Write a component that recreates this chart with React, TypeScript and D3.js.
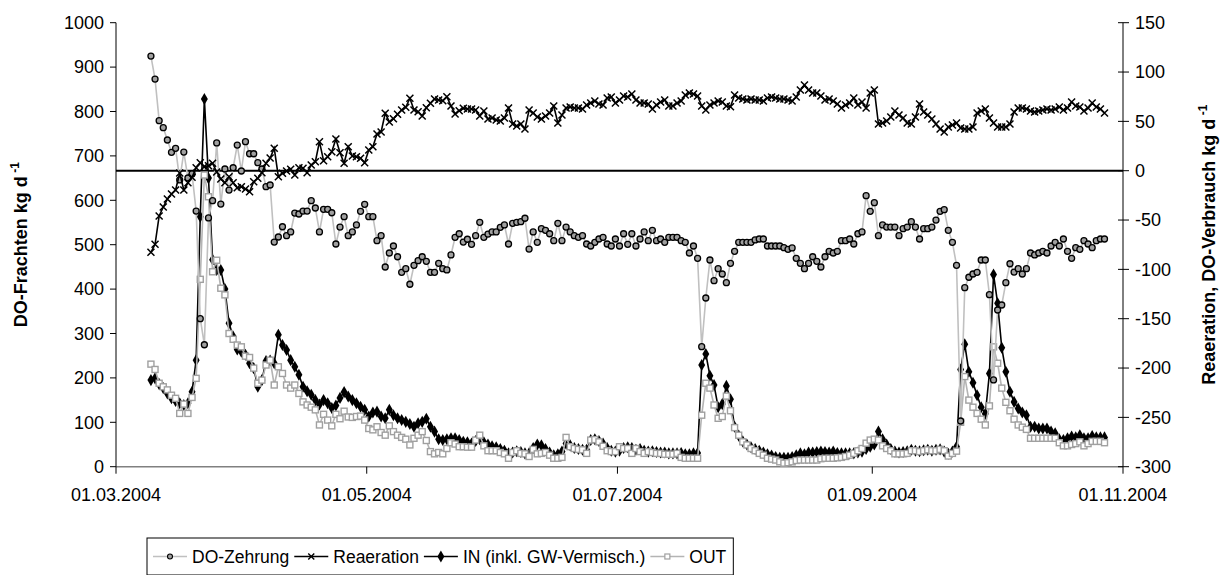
import React, { useEffect, useRef } from "react";
import * as d3 from "d3";

// daily values, first day 09.03.2004 (12:00)
const firstDay = Date.UTC(2004, 2, 9, 12);

// DO-Zehrung, right axis (kg/d)
const doZehrung = [
  116.2, 92.9, 50.7, 43.6, 31.1, 18.6, 22.7, -9.4, 18.9, -7.4,
  -3.3, -40.9, -150.0, -176.4, -47.9, -30.4, 28.1, -33.8, 1.7, -19.6,
  3.0, 26.0, -0.3, 29.4, 17.2, 17.2, 8.1, 1.7, -16.2, -14.5,
  -72.3, -67.2, -56.8, -65.9, -62.1, -42.9, -43.9, -40.9, -40.9, -30.4,
  -37.8, -62.1, -39.1, -39.1, -42.6, -74.3, -57.1, -46.6, -65.9, -62.1,
  -55.0, -41.2, -34.1, -46.6, -46.6, -70.9, -65.9, -97.6, -83.4, -76.3,
  -87.2, -103.0, -99.3, -115.1, -95.9, -91.2, -87.2, -91.8, -103.0, -103.0,
  -93.9, -99.3, -100.6, -85.4, -67.5, -63.9, -72.3, -69.5, -74.6, -65.9,
  -52.3, -67.5, -64.2, -62.1, -62.1, -57.4, -55.0, -74.3, -53.3, -52.3,
  -51.7, -48.2, -79.4, -62.1, -72.6, -58.8, -60.4, -63.9, -70.9, -53.3,
  -70.9, -57.1, -62.1, -65.9, -67.5, -65.9, -74.3, -76.3, -72.6, -69.2,
  -67.5, -74.3, -76.3, -69.2, -76.3, -63.9, -74.6, -63.9, -76.3, -69.2,
  -62.1, -70.9, -60.4, -70.9, -69.2, -72.6, -67.5, -67.5, -67.5, -70.9,
  -72.6, -83.4, -76.3, -88.8, -178.4, -129.0, -90.5, -111.5, -99.3, -104.7,
  -113.5, -93.9, -81.7, -72.6, -72.6, -72.6, -72.6, -70.2, -69.2, -69.2,
  -76.3, -76.3, -76.3, -76.3, -78.0, -79.7, -78.3, -88.8, -93.9, -99.3,
  -93.9, -87.2, -91.8, -97.6, -87.2, -81.7, -83.4, -81.7, -70.9, -70.9,
  -69.2, -74.3, -63.9, -62.1, -25.3, -41.2, -32.4, -65.9, -55.0, -57.1,
  -57.1, -57.1, -65.9, -58.8, -57.1, -51.7, -57.1, -69.2, -58.8, -58.8,
  -57.1, -50.0, -41.2, -39.5, -60.4, -72.6, -95.9, -253.7, -118.6, -108.0,
  -104.7, -103.0, -90.5, -90.5, -125.7, -212.1, -141.2, -136.1, -113.5, -94.3,
  -102.7, -99.3, -104.7, -99.3, -83.4, -85.4, -83.4, -81.7, -83.4, -76.3,
  -72.6, -76.3, -69.2, -81.7, -88.8, -78.0, -79.7, -70.9, -74.3, -78.0,
  -70.9, -69.2, -69.2,
];

// Reaeration, right axis (kg/d)
const reaeration = [
  -82.7, -74.6, -45.9, -36.8, -28.7, -23.6, -19.6, -2.3, -19.6, -12.2,
  -6.7, 3.0, 8.1, 4.1, 5.1, 7.5, -1.3, -8.4, -12.2, -6.1,
  -12.2, -17.2, -16.2, -18.6, -21.3, -11.2, -7.7, -2.0, 7.5, 12.9,
  22.7, -6.1, -2.6, -0.3, 1.4, -4.4, 3.0, 2.4, -2.0, 5.8,
  9.1, 29.4, 10.1, 14.2, 19.3, 32.1, 18.2, 7.5, 24.3, 14.9,
  14.2, 12.6, 8.1, 21.0, 24.3, 37.2, 39.2, 58.2, 49.4, 52.7,
  57.2, 61.5, 64.3, 73.4, 61.5, 59.8, 55.4, 63.8, 68.3, 72.7,
  71.7, 70.9, 75.0, 65.6, 57.5, 60.8, 63.2, 62.5, 62.5, 61.5,
  55.4, 60.5, 52.4, 53.4, 51.4, 50.4, 53.4, 63.5, 47.3, 45.3,
  47.3, 42.3, 61.5, 58.5, 54.4, 52.4, 55.4, 58.5, 65.6, 48.3,
  56.4, 63.5, 64.6, 63.5, 63.5, 62.5, 66.6, 68.6, 70.6, 67.6,
  66.6, 73.7, 74.7, 68.6, 71.7, 75.7, 74.7, 77.7, 71.7, 68.6,
  68.6, 67.6, 62.5, 66.6, 69.6, 71.7, 65.6, 65.6, 68.6, 70.6,
  76.7, 78.7, 77.7, 75.7, 65.6, 61.5, 66.6, 68.6, 70.6, 69.6,
  65.6, 64.9, 76.7, 73.7, 72.7, 71.7, 72.7, 71.7, 71.7, 70.6,
  73.7, 74.7, 73.7, 72.7, 72.7, 71.7, 70.6, 74.7, 81.8, 86.9,
  81.8, 78.7, 78.7, 75.7, 71.7, 72.7, 70.6, 67.6, 63.5, 66.6,
  68.6, 73.7, 66.6, 69.6, 63.5, 78.7, 81.8, 47.3, 48.3, 50.4,
  54.4, 60.5, 56.4, 53.4, 48.3, 47.3, 54.4, 67.6, 59.5, 56.4,
  52.4, 47.3, 42.3, 39.2, 44.3, 46.3, 48.3, 43.3, 42.3, 42.3,
  44.3, 58.5, 60.5, 62.5, 53.4, 48.3, 44.3, 44.3, 44.3, 47.3,
  59.5, 63.5, 63.5, 62.5, 60.5, 59.5, 60.5, 61.5, 62.5, 61.5,
  62.5, 64.6, 61.5, 63.5, 69.6, 65.6, 64.6, 60.5, 63.5, 68.6,
  64.6, 62.5, 58.5,
];

// IN (inkl. GW-Vermisch.), left axis (kg/d)
const inLoad = [
  195, 199, 186, 177, 165, 154, 148, 143, 139, 143,
  169, 240, 563, 828, 650, 466, 443, 443, 400, 323,
  293, 264, 259, 252, 233, 222, 180, 195, 238, 239,
  233, 297, 274, 263, 240, 225, 207, 180, 170, 162,
  150, 140, 150, 143, 132, 138, 155, 168, 158, 150,
  143, 135, 128, 113, 122, 124, 113, 109, 128, 116,
  109, 105, 101, 96, 90, 98, 101, 108, 90, 79,
  62, 60, 62, 64, 64, 60, 56, 55, 52, 58,
  62, 55, 50, 46, 44, 40, 36, 30, 32, 35,
  33, 30, 30, 42, 50, 48, 40, 32, 26, 28,
  34, 52, 48, 42, 40, 38, 38, 60, 62, 58,
  52, 42, 36, 34, 36, 42, 44, 42, 38, 40,
  36, 34, 35, 33, 32, 32, 30, 30, 30, 31,
  28, 28, 30, 31, 229, 254, 205, 184, 134, 141,
  182, 152, 90, 70, 57, 50, 44, 40, 36, 32,
  28, 25, 22, 20, 20, 20, 22, 26, 30, 28,
  32, 32, 33, 34, 33, 32, 34, 31, 30, 30,
  30, 30, 32, 34, 40, 45, 50, 79, 62, 50,
  40, 34, 32, 33, 35, 38, 36, 35, 37, 38,
  36, 38, 39, 34, 29, 34, 45, 219, 276, 214,
  189, 161, 134, 119, 210, 433, 368, 268, 214, 169,
  146, 131, 122, 116, 90, 90, 86, 86, 86, 79,
  75, 62, 60, 64, 68, 66, 71, 64, 64, 69,
  66, 66, 66,
];

// OUT, left axis (kg/d)
const outLoad = [
  231, 219, 188, 180, 173, 161, 154, 120, 141, 120,
  156, 199, 422, 657, 608, 439, 465, 402, 387, 300,
  287, 274, 270, 249, 246, 222, 188, 195, 229, 240,
  184, 225, 210, 184, 177, 184, 165, 146, 139, 134,
  128, 94, 118, 105, 92, 118, 108, 125, 112, 111,
  113, 114, 105, 86, 83, 90, 77, 71, 92, 79,
  71, 66, 62, 49, 64, 71, 79, 59, 34, 29,
  32, 29, 41, 54, 51, 45, 45, 44, 44, 60,
  71, 47, 36, 36, 36, 32, 29, 19, 32, 36,
  30, 29, 23, 39, 29, 30, 32, 26, 19, 19,
  21, 66, 45, 41, 39, 38, 30, 60, 61, 56,
  46, 36, 34, 34, 45, 41, 41, 30, 41, 34,
  30, 34, 32, 30, 30, 28, 28, 28, 30, 21,
  19, 19, 19, 19, 116, 188, 177, 139, 109, 113,
  159, 126, 88, 71, 56, 49, 41, 36, 30, 26,
  19, 17, 15, 11, 8, 9, 11, 14, 15, 15,
  15, 15, 15, 18, 19, 19, 19, 20, 21, 23,
  26, 30, 36, 41, 53, 60, 62, 60, 47, 41,
  36, 29, 29, 29, 30, 36, 36, 34, 36, 38,
  36, 36, 39, 36, 24, 30, 35, 100, 203, 150,
  134, 120, 107, 94, 137, 270, 233, 177, 145, 126,
  107, 94, 89, 84, 64, 64, 64, 64, 64, 64,
  64, 54, 47, 47, 50, 52, 56, 47, 52, 57,
  57, 57, 54,
];

const leftTicks = [0, 100, 200, 300, 400, 500, 600, 700, 800, 900, 1000];
const rightTicks = [-300, -250, -200, -150, -100, -50, 0, 50, 100, 150];
const dateTicks = [
  Date.UTC(2004, 2, 1),
  Date.UTC(2004, 4, 1),
  Date.UTC(2004, 6, 1),
  Date.UTC(2004, 8, 1),
  Date.UTC(2004, 10, 1),
];
const legendLabels = ["DO-Zehrung", "Reaeration", "IN (inkl. GW-Vermisch.)", "OUT"];

const FONT = "Arial, 'Liberation Sans', sans-serif";

type Pt = { d: Date; v: number };

export default function App() {
  const ref = useRef<SVGSVGElement>(null);

  useEffect(() => {
    const svg = d3.select(ref.current);
    svg.selectAll("*").remove();

    const left = 116, right = 1123, top = 22.7, bottom = 466.7;

    const x = d3.scaleUtc()
      .domain([dateTicks[0], dateTicks[dateTicks.length - 1]])
      .range([left, right]);
    const yL = d3.scaleLinear().domain([0, 1000]).range([bottom, top]);
    const yR = d3.scaleLinear().domain([-300, 150]).range([bottom, top]);

    const toPts = (arr: number[]): Pt[] =>
      arr.map((v, i) => ({ d: new Date(firstDay + i * 86400000), v }));

    // axes
    const g = svg.append("g");
    g.append("line").attr("x1", left).attr("x2", right).attr("y1", bottom).attr("y2", bottom)
      .attr("stroke", "#808080").attr("stroke-width", 1.5);
    g.append("line").attr("x1", left).attr("x2", left).attr("y1", top).attr("y2", bottom)
      .attr("stroke", "#000").attr("stroke-width", 1);
    g.append("line").attr("x1", right).attr("x2", right).attr("y1", top).attr("y2", bottom)
      .attr("stroke", "#000").attr("stroke-width", 1);

    leftTicks.forEach(t => {
      g.append("line").attr("x1", left - 6).attr("x2", left).attr("y1", yL(t)).attr("y2", yL(t))
        .attr("stroke", "#000");
      g.append("text").attr("x", left - 12).attr("y", yL(t)).attr("dy", "0.35em")
        .attr("text-anchor", "end").style("font-family", FONT).style("font-size", "18px")
        .text(t);
    });
    rightTicks.forEach(t => {
      g.append("line").attr("x1", right - 5).attr("x2", right + 6).attr("y1", yR(t)).attr("y2", yR(t))
        .attr("stroke", "#000");
      g.append("text").attr("x", right + 12).attr("y", yR(t)).attr("dy", "0.35em")
        .attr("text-anchor", "start").style("font-family", FONT).style("font-size", "18px")
        .text(t);
    });
    const fmt = d3.utcFormat("%d.%m.%Y");
    dateTicks.forEach(t => {
      g.append("line").attr("x1", x(t)).attr("x2", x(t)).attr("y1", bottom).attr("y2", bottom + 7)
        .attr("stroke", "#000");
      g.append("text").attr("x", x(t)).attr("y", bottom + 34)
        .attr("text-anchor", "middle").style("font-family", FONT).style("font-size", "18px")
        .text(fmt(new Date(t)));
    });

    // axis titles
    const title = (cx: number, main: string) => {
      const t = g.append("text")
        .attr("transform", `translate(${cx},${(top + bottom) / 2}) rotate(-90)`)
        .attr("text-anchor", "middle")
        .style("font-family", FONT).style("font-size", "18px").style("font-weight", "bold");
      t.append("tspan").text(main);
      t.append("tspan").attr("dy", -8).style("font-size", "12px").text(" -1");
    };
    title(27, "DO-Frachten kg d");
    title(1215, "Reaeration, DO-Verbrauch kg d");

    // zero line of the right axis
    g.append("line").attr("x1", left).attr("x2", right).attr("y1", yR(0)).attr("y2", yR(0))
      .attr("stroke", "#000").attr("stroke-width", 2);

    const lineL = d3.line<Pt>().x(p => x(p.d)).y(p => yL(p.v));
    const lineR = d3.line<Pt>().x(p => x(p.d)).y(p => yR(p.v));

    const diamond = d3.symbol().type(d3.symbolDiamond).size(42);

    // IN
    const inPts = toPts(inLoad);
    svg.append("path").datum(inPts).attr("d", lineL).attr("fill", "none")
      .attr("stroke", "#000").attr("stroke-width", 1.6);
    svg.append("g").selectAll("path").data(inPts).enter().append("path")
      .attr("d", diamond as any)
      .attr("transform", p => `translate(${x(p.d)},${yL(p.v)})`)
      .attr("fill", "#000");

    // OUT
    const outPts = toPts(outLoad);
    svg.append("path").datum(outPts).attr("d", lineL).attr("fill", "none")
      .attr("stroke", "#b4b4b4").attr("stroke-width", 1.6);
    svg.append("g").selectAll("rect").data(outPts).enter().append("rect")
      .attr("x", p => x(p.d) - 3).attr("y", p => yL(p.v) - 3)
      .attr("width", 6).attr("height", 6)
      .attr("fill", "#fff").attr("stroke", "#a0a0a0").attr("stroke-width", 1.4);

    // DO-Zehrung
    const zPts = toPts(doZehrung);
    svg.append("path").datum(zPts).attr("d", lineR).attr("fill", "none")
      .attr("stroke", "#c0c0c0").attr("stroke-width", 1.6);
    svg.append("g").selectAll("circle").data(zPts).enter().append("circle")
      .attr("cx", p => x(p.d)).attr("cy", p => yR(p.v)).attr("r", 3)
      .attr("fill", "#a0a0a0").attr("stroke", "#000").attr("stroke-width", 1.3);

    // Reaeration
    const rPts = toPts(reaeration);
    svg.append("path").datum(rPts).attr("d", lineR).attr("fill", "none")
      .attr("stroke", "#000").attr("stroke-width", 1.6);
    svg.append("g").selectAll("path").data(rPts).enter().append("path")
      .attr("d", "M-3.5,-3.5L3.5,3.5M-3.5,3.5L3.5,-3.5")
      .attr("transform", p => `translate(${x(p.d)},${yR(p.v)})`)
      .attr("stroke", "#000").attr("stroke-width", 1.5).attr("fill", "none");

    // legend
    const lg = svg.append("g");
    const boxX = 147, boxY = 538, boxH = 37;
    const box = lg.append("rect").attr("x", boxX).attr("y", boxY).attr("height", boxH)
      .attr("fill", "#fff").attr("stroke", "#000").attr("stroke-width", 1);
    let cx = boxX + 6;
    const cy = boxY + boxH / 2;
    legendLabels.forEach((label, k) => {
      const stroke = k === 0 ? "#c0c0c0" : k === 3 ? "#b4b4b4" : "#000";
      lg.append("line").attr("x1", cx).attr("x2", cx + 34).attr("y1", cy).attr("y2", cy)
        .attr("stroke", stroke).attr("stroke-width", 1.6);
      const mx = cx + 17;
      if (k === 0) {
        lg.append("circle").attr("cx", mx).attr("cy", cy).attr("r", 2.5)
          .attr("fill", "#a0a0a0").attr("stroke", "#000").attr("stroke-width", 1.1);
      } else if (k === 1) {
        lg.append("path").attr("d", "M-3,-3L3,3M-3,3L3,-3")
          .attr("transform", `translate(${mx},${cy})`).attr("stroke", "#000").attr("stroke-width", 1.4);
      } else if (k === 2) {
        lg.append("path").attr("d", diamond as any)
          .attr("transform", `translate(${mx},${cy})`).attr("fill", "#000");
      } else {
        lg.append("rect").attr("x", mx - 2.5).attr("y", cy - 2.5).attr("width", 5).attr("height", 5)
          .attr("fill", "#fff").attr("stroke", "#a0a0a0").attr("stroke-width", 1.2);
      }
      const txt = lg.append("text").attr("x", cx + 39).attr("y", cy).attr("dy", "0.35em")
        .style("font-family", FONT).style("font-size", "17.5px").text(label);
      const w = (txt.node() as SVGTextElement).getComputedTextLength();
      cx = cx + 39 + w + 5;
    });
    box.attr("width", cx - boxX + 2);
  }, []);

  return (
    <svg ref={ref} width={1227} height={575}
      style={{ position: "absolute", left: 0, top: 0, background: "#fff" }} />
  );
}
